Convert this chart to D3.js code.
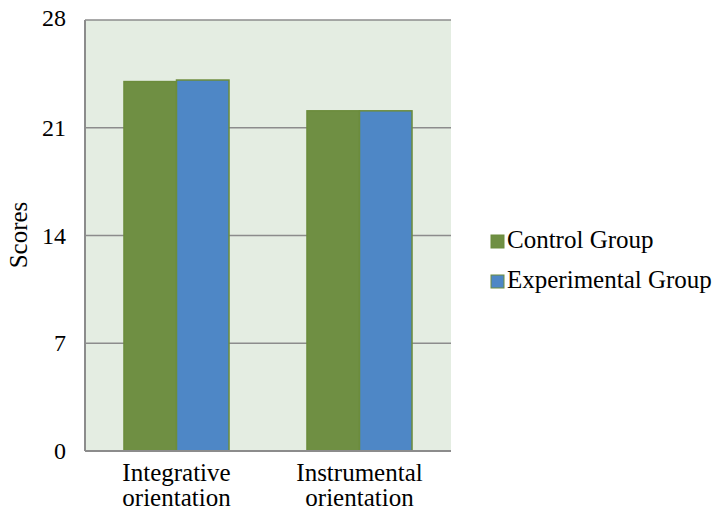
<!DOCTYPE html>
<html>
<head>
<meta charset="utf-8">
<script src="https://cdn.jsdelivr.net/npm/d3@7"></script>
<style>
  html, body { margin: 0; padding: 0; background: #ffffff; }
  svg { display: block; }
  text { font-family: "Liberation Serif", "Times New Roman", serif; fill: #000; }
</style>
</head>
<body>
<svg id="chart" width="720" height="512"></svg>
<script>
// Motivation scores by orientation type
const categories = [["Integrative", "orientation"], ["Instrumental", "orientation"]];
const seriesNames = ["Control Group", "Experimental Group"];
const controlValues = [24.0, 22.1];
const experimentalValues = [24.1, 22.1];
const yTicks = [0, 7, 14, 21, 28];

const colors = { "Control Group": "#6f8f43", "Experimental Group": "#4e87c6" };

const svg = d3.select("#chart");
const plot = { left: 85, right: 451, top: 20, bottom: 451 };

const x0 = d3.scaleBand()
  .domain(d3.range(categories.length))
  .range([plot.left, plot.right])
  .paddingInner(0.426)
  .paddingOuter(0.213);

const x1 = d3.scaleBand()
  .domain(seriesNames)
  .range([0, x0.bandwidth()]);

const y = d3.scaleLinear().domain([0, 28]).range([plot.bottom, plot.top]);

// plot background
svg.append("rect")
  .attr("x", plot.left).attr("y", plot.top)
  .attr("width", plot.right - plot.left)
  .attr("height", plot.bottom - plot.top)
  .attr("fill", "#e4ede2");

// horizontal gridlines
svg.append("g")
  .selectAll("line")
  .data(yTicks.filter(d => d > 0))
  .join("line")
  .attr("x1", plot.left).attr("x2", plot.right)
  .attr("y1", d => y(d)).attr("y2", d => y(d))
  .attr("stroke", "#8c8c8c").attr("stroke-width", 1.5);

// bars
const rows = categories.map((c, i) => ({
  i,
  values: [
    { key: "Control Group", value: controlValues[i] },
    { key: "Experimental Group", value: experimentalValues[i] }
  ]
}));

svg.append("g")
  .selectAll("g")
  .data(rows)
  .join("g")
  .attr("transform", d => `translate(${x0(d.i)},0)`)
  .selectAll("rect")
  .data(d => d.values)
  .join("rect")
  .attr("x", d => x1(d.key))
  .attr("y", d => y(d.value))
  .attr("width", x1.bandwidth())
  .attr("height", d => y(0) - y(d.value))
  .attr("fill", d => colors[d.key])
  .attr("stroke", "#6c8c3c")
  .attr("stroke-width", 1.5);

// axis lines
svg.append("line")
  .attr("x1", plot.left).attr("x2", plot.left)
  .attr("y1", plot.top).attr("y2", plot.bottom)
  .attr("stroke", "#8c8c8c").attr("stroke-width", 2);
svg.append("line")
  .attr("x1", plot.left).attr("x2", plot.right)
  .attr("y1", plot.bottom).attr("y2", plot.bottom)
  .attr("stroke", "#8c8c8c").attr("stroke-width", 2);

// y tick labels
svg.append("g")
  .selectAll("text")
  .data(yTicks)
  .join("text")
  .attr("x", 66)
  .attr("y", d => y(d) - (d === 28 ? 2 : 0))
  .attr("dy", "0.34em")
  .attr("text-anchor", "end")
  .attr("font-size", 24)
  .text(d => d);

// category labels
svg.append("g")
  .selectAll("text")
  .data(categories)
  .join("text")
  .attr("text-anchor", "middle")
  .attr("font-size", 25)
  .each(function(lines, i) {
    const cx = x0(i) + x0.bandwidth() / 2;
    d3.select(this).selectAll("tspan")
      .data(lines)
      .join("tspan")
      .attr("x", cx)
      .attr("y", (d, j) => 481 + j * 25)
      .text(d => d);
  });

// y axis title
svg.append("text")
  .attr("transform", "translate(27,235) rotate(-90)")
  .attr("text-anchor", "middle")
  .attr("font-size", 25)
  .text("Scores");

// legend
const legend = svg.append("g")
  .selectAll("g")
  .data(seriesNames)
  .join("g")
  .attr("transform", (d, i) => `translate(491,${241.5 + i * 40})`);
legend.append("rect")
  .attr("x", 0).attr("y", -6.5)
  .attr("width", 13).attr("height", 13)
  .attr("fill", d => colors[d])
  .attr("stroke", "#6c8c3c").attr("stroke-width", 1);
legend.append("text")
  .attr("x", 16).attr("y", 6.5)
  .attr("font-size", 25)
  .text(d => d);
</script>
</body>
</html>
